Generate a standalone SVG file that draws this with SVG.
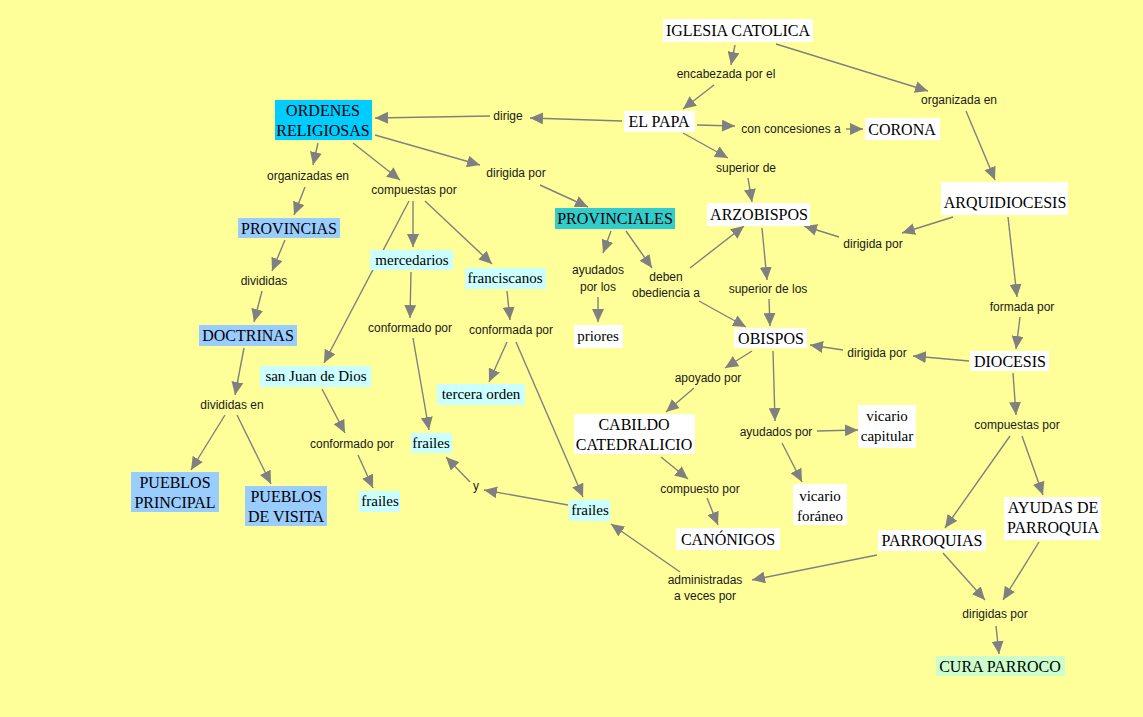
<svg xmlns="http://www.w3.org/2000/svg" width="1143" height="717" viewBox="0 0 1143 717">
<style>
.n text{font-family:"Liberation Serif","DejaVu Serif",serif;font-size:15px;fill:#000;text-anchor:middle}
.n text.u{font-size:16px}
.lb{font-family:"Liberation Sans",Arial,sans-serif;font-size:12px;fill:#1a1a1a;text-anchor:middle}
.w{fill:#ffffff}.c1{fill:#00ccff}.c2{fill:#99ccff}.c3{fill:#33cccc}.c4{fill:#ccffff}.c5{fill:#ccffcc}
#links line{stroke:#808080;stroke-width:1.4;marker-end:url(#ah)}
</style>
<defs>
<marker id="ah" markerUnits="userSpaceOnUse" markerWidth="14" markerHeight="12" refX="13" refY="6" orient="auto">
<path d="M0,0 L13,6 L0,12 z" fill="#808080"/>
</marker>
</defs>
<rect width="1143" height="717" fill="#ffff99"/>
<g id="links">
<line x1="735" y1="45" x2="731" y2="65"/>
<line x1="714" y1="85" x2="683" y2="109"/>
<line x1="776" y1="44" x2="928" y2="91"/>
<line x1="966" y1="111" x2="995" y2="180"/>
<line x1="622" y1="121" x2="530" y2="118"/>
<line x1="490" y1="116" x2="375" y2="118"/>
<line x1="697" y1="125" x2="735" y2="126"/>
<line x1="846" y1="129" x2="863" y2="129"/>
<line x1="683" y1="133" x2="728" y2="158"/>
<line x1="748" y1="178" x2="752" y2="202"/>
<line x1="953" y1="217" x2="902" y2="233"/>
<line x1="839" y1="237" x2="804" y2="226"/>
<line x1="1008" y1="217" x2="1017" y2="297"/>
<line x1="1020" y1="317" x2="1016" y2="349"/>
<line x1="969" y1="361" x2="913" y2="356"/>
<line x1="843" y1="350" x2="810" y2="345"/>
<line x1="1013" y1="373" x2="1016" y2="415"/>
<line x1="1010" y1="436" x2="945" y2="528"/>
<line x1="1022" y1="436" x2="1043" y2="495"/>
<line x1="943" y1="553" x2="985" y2="600"/>
<line x1="1039" y1="542" x2="1003" y2="600"/>
<line x1="996" y1="626" x2="999" y2="654"/>
<line x1="877" y1="555" x2="752" y2="580"/>
<line x1="680" y1="572" x2="611" y2="524"/>
<line x1="762" y1="228" x2="767" y2="280"/>
<line x1="769" y1="299" x2="770" y2="326"/>
<line x1="752" y1="351" x2="725" y2="368"/>
<line x1="694" y1="388" x2="666" y2="412"/>
<line x1="773" y1="351" x2="775" y2="421"/>
<line x1="817" y1="431" x2="858" y2="430"/>
<line x1="782" y1="443" x2="802" y2="482"/>
<line x1="661" y1="457" x2="688" y2="479"/>
<line x1="707" y1="498" x2="718" y2="525"/>
<line x1="611" y1="231" x2="603" y2="253"/>
<line x1="598" y1="297" x2="598" y2="322"/>
<line x1="626" y1="231" x2="652" y2="268"/>
<line x1="690" y1="268" x2="744" y2="226"/>
<line x1="699" y1="301" x2="746" y2="327"/>
<line x1="318" y1="143" x2="313" y2="165"/>
<line x1="305" y1="187" x2="294" y2="215"/>
<line x1="353" y1="143" x2="400" y2="180"/>
<line x1="375" y1="135" x2="480" y2="165"/>
<line x1="540" y1="185" x2="588" y2="207"/>
<line x1="413" y1="201" x2="413" y2="247"/>
<line x1="425" y1="201" x2="492" y2="264"/>
<line x1="409" y1="201" x2="324" y2="363"/>
<line x1="285" y1="240" x2="272" y2="271"/>
<line x1="262" y1="291" x2="254" y2="322"/>
<line x1="244" y1="348" x2="235" y2="395"/>
<line x1="225" y1="415" x2="191" y2="470"/>
<line x1="237" y1="415" x2="271" y2="484"/>
<line x1="411" y1="272" x2="410" y2="318"/>
<line x1="413" y1="338" x2="429" y2="430"/>
<line x1="507" y1="291" x2="510" y2="320"/>
<line x1="507" y1="342" x2="489" y2="382"/>
<line x1="516" y1="342" x2="583" y2="497"/>
<line x1="322" y1="389" x2="345" y2="433"/>
<line x1="358" y1="455" x2="373" y2="488"/>
<line x1="568" y1="505" x2="484" y2="490"/>
<line x1="470" y1="482" x2="446" y2="457"/>
</g>
<g id="labels">
<text class="lb" x="726" y="78">encabezada por el</text>
<text class="lb" x="508" y="120">dirige</text>
<text class="lb" x="791" y="133">con concesiones a</text>
<text class="lb" x="959" y="104">organizada en</text>
<text class="lb" x="746" y="172">superior de</text>
<text class="lb" x="873" y="248">dirigida por</text>
<text class="lb" x="308" y="180">organizadas en</text>
<text class="lb" x="414" y="194">compuestas por</text>
<text class="lb" x="516" y="177">dirigida por</text>
<text class="lb" x="264" y="285">divididas</text>
<text class="lb" x="598" y="274">ayudados</text>
<text class="lb" x="598" y="291">por los</text>
<text class="lb" x="666" y="281">deben</text>
<text class="lb" x="666" y="297">obediencia a</text>
<text class="lb" x="768" y="293">superior de los</text>
<text class="lb" x="1022" y="311">formada por</text>
<text class="lb" x="877" y="357">dirigida por</text>
<text class="lb" x="410" y="332">conformado por</text>
<text class="lb" x="511" y="334">conformada por</text>
<text class="lb" x="708" y="382">apoyado por</text>
<text class="lb" x="776" y="436">ayudados por</text>
<text class="lb" x="1017" y="429">compuestas por</text>
<text class="lb" x="232" y="409">divididas en</text>
<text class="lb" x="352" y="448">conformado por</text>
<text class="lb" x="476" y="490">y</text>
<text class="lb" x="700" y="493">compuesto por</text>
<text class="lb" x="705" y="584">administradas</text>
<text class="lb" x="705" y="600">a veces por</text>
<text class="lb" x="995" y="618">dirigidas por</text>
</g>
<g id="n-iglesia" class="n"><rect class="w" x="663" y="19" width="150" height="23"/><text class="u" x="738" y="36">IGLESIA CATOLICA</text></g>
<g id="n-papa" class="n"><rect class="w" x="624" y="111" width="71" height="21"/><text class="u" x="659" y="127">EL PAPA</text></g>
<g id="n-corona" class="n"><rect class="w" x="865" y="118" width="75" height="22"/><text class="u" x="902" y="135">CORONA</text></g>
<g id="n-arquidiocesis" class="n"><rect class="w" x="941" y="182" width="127" height="33"/><text class="u" x="1005" y="208">ARQUIDIOCESIS</text></g>
<g id="n-arzobispos" class="n"><rect class="w" x="707" y="203" width="103" height="23"/><text class="u" x="759" y="220">ARZOBISPOS</text></g>
<g id="n-ordenes" class="n"><rect class="c1" x="275" y="100" width="97" height="40"/><text class="u" x="323" y="116">ORDENES</text><text class="u" x="323" y="136">RELIGIOSAS</text></g>
<g id="n-provinciales" class="n"><rect class="c3" x="555" y="208" width="120" height="21"/><text class="u" x="615" y="224">PROVINCIALES</text></g>
<g id="n-provincias" class="n"><rect class="c2" x="238" y="218" width="102" height="20"/><text class="u" x="289" y="234">PROVINCIAS</text></g>
<g id="n-doctrinas" class="n"><rect class="c2" x="199" y="325" width="98" height="21"/><text class="u" x="248" y="341">DOCTRINAS</text></g>
<g id="n-mercedarios" class="n"><rect class="c4" x="370" y="250" width="83" height="20"/><text x="412" y="265">mercedarios</text></g>
<g id="n-franciscanos" class="n"><rect class="c4" x="465" y="268" width="81" height="21"/><text x="505" y="283">franciscanos</text></g>
<g id="n-priores" class="n"><rect class="w" x="574" y="325" width="49" height="23"/><text x="598" y="341">priores</text></g>
<g id="n-obispos" class="n"><rect class="w" x="734" y="328" width="73" height="20"/><text class="u" x="771" y="344">OBISPOS</text></g>
<g id="n-diocesis" class="n"><rect class="w" x="970" y="351" width="79" height="20"/><text class="u" x="1010" y="367">DIOCESIS</text></g>
<g id="n-sanjuan" class="n"><rect class="c4" x="260" y="366" width="111" height="21"/><text x="316" y="381">san Juan de Dios</text></g>
<g id="n-tercera" class="n"><rect class="c4" x="437" y="384" width="88" height="21"/><text x="481" y="399">tercera orden</text></g>
<g id="n-cabildo" class="n"><rect class="w" x="574" y="414" width="121" height="40"/><text class="u" x="634" y="430">CABILDO</text><text class="u" x="634" y="450">CATEDRALICIO</text></g>
<g id="n-vcapitular" class="n"><rect class="w" x="858" y="405" width="58" height="43"/><text x="887" y="421">vicario</text><text x="887" y="441">capitular</text></g>
<g id="n-frailes1" class="n"><rect class="c4" x="411" y="433" width="41" height="20"/><text x="431" y="448">frailes</text></g>
<g id="n-frailes2" class="n"><rect class="c4" x="359" y="491" width="41" height="21"/><text x="380" y="506">frailes</text></g>
<g id="n-pprincipal" class="n"><rect class="c2" x="131" y="472" width="88" height="40"/><text class="u" x="175" y="488">PUEBLOS</text><text class="u" x="175" y="508">PRINCIPAL</text></g>
<g id="n-pvisita" class="n"><rect class="c2" x="245" y="486" width="82" height="40"/><text class="u" x="286" y="502">PUEBLOS</text><text class="u" x="286" y="522">DE VISITA</text></g>
<g id="n-frailes3" class="n"><rect class="c4" x="569" y="500" width="41" height="21"/><text x="590" y="515">frailes</text></g>
<g id="n-vforaneo" class="n"><rect class="w" x="793" y="484" width="54" height="41"/><text x="820" y="501">vicario</text><text x="820" y="521">foráneo</text></g>
<g id="n-ayudas" class="n"><rect class="w" x="1004" y="497" width="97" height="43"/><text class="u" x="1053" y="513">AYUDAS DE</text><text class="u" x="1053" y="533">PARROQUIA</text></g>
<g id="n-canonigos" class="n"><rect class="w" x="676" y="528" width="104" height="22"/><text class="u" x="728" y="545">CANÓNIGOS</text></g>
<g id="n-parroquias" class="n"><rect class="w" x="878" y="530" width="108" height="21"/><text class="u" x="932" y="546">PARROQUIAS</text></g>
<g id="n-cura" class="n"><rect class="c5" x="936" y="656" width="129" height="20"/><text class="u" x="1000" y="672">CURA PARROCO</text></g>
</svg>
